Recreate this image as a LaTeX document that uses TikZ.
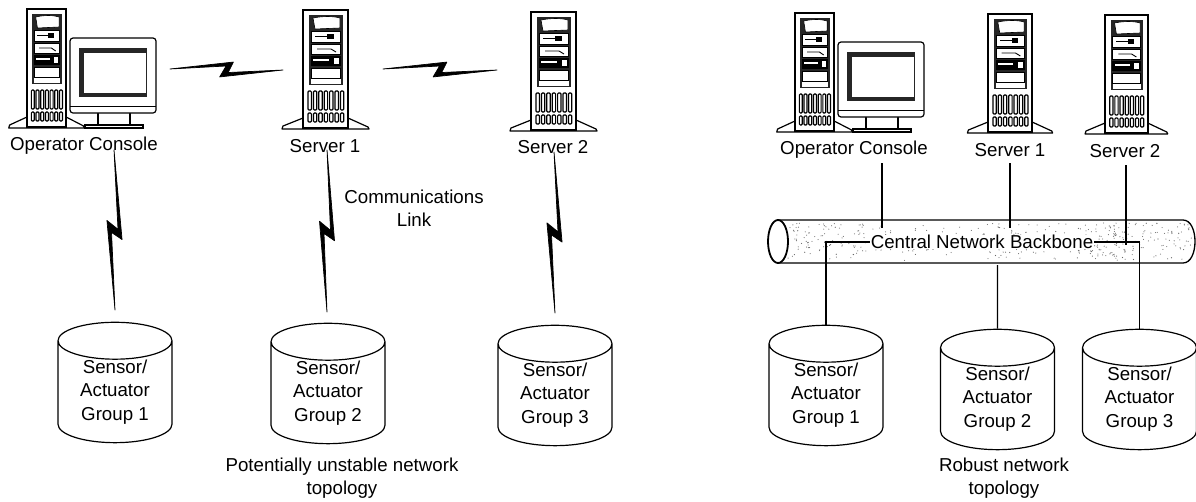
\documentclass[tikz,border=0pt]{standalone}
\usepackage{fontspec}
\setmainfont{Liberation Sans}
\usetikzlibrary{calc,shapes.geometric}
\tikzset{
  towerpc/.pic={
    \draw[line width=1.2pt,fill=white,line join=round] (0,108)--(-20,116)--(-21,119)--(66,119)--(65,117)--(45,108)--cycle;
    \draw[line width=1.5pt,fill=white] (0,0) rectangle (45,118);
    \fill[black!85] (6,5) rectangle (40,75);
    \fill[white] (8,69) rectangle (38,74);
    \draw[fill=white,line width=.6pt] (10,8) .. controls (20,6) and (30,6) .. (37,8) -- (37,18) -- (12,19) -- cycle;
    \draw[fill=white,line width=.6pt] (8,21) rectangle (37,32);
    \draw[line width=1pt] (12,26.5) -- (24,26.5);
    \fill (24,24) rectangle (31,29);
    \draw[fill=white,line width=.6pt] (8,34) rectangle (37,44);
    \draw[line width=.9pt] (14,39) -- (28,39) -- (33,42);
    \draw[fill=black,line width=.6pt] (8,46) rectangle (37,55);
    \fill[white] (10,49) rectangle (26,50.5);
    \draw[fill=white,line width=.6pt] (30,47) rectangle (36,54);
    \draw[fill=white,line width=.6pt] (8,58) rectangle (37,68);
    \foreach \k in {0,...,6}{
      \draw[line width=1.2pt,rounded corners=1pt] (5+\k*5.4,81) rectangle ++(3.4,19);
      \draw[line width=1.2pt,rounded corners=1pt] (5+\k*5.4,103) rectangle ++(3.4,9);
    }
  },
  crtbox/.pic={
    \draw[line width=1.2pt,fill=white] (15,87) rectangle (73,90);
    \draw[line width=1.2pt,fill=white] (28,72) rectangle (60,87);
    \draw[line width=1.2pt,fill=white,rounded corners=3pt] (0,0) rectangle (86,75);
    \draw (0,68) -- (86,68);
    \fill[black!85] (9,10) rectangle (77,59);
    \fill[white] (14,15) rectangle (75.5,55);
  }
}
\begin{document}
\begin{tikzpicture}[x=1pt,y=-1pt]
  \tikzstyle{lbl}=[align=center,inner sep=0,font=\fontsize{18.7}{23}\selectfont]
  \tikzstyle{grp}=[cylinder,shape border rotate=90,aspect=.53,draw,line width=1.2pt,
    minimum width=114pt,minimum height=116pt,inner sep=0,align=center,
    font=\fontsize{18.7}{23.5}\selectfont]
  \tikzstyle{wire}=[line width=1.2pt]
  \tikzstyle{bolt}=[fill=black,draw=black,line width=.7pt,line join=round,to path={
    -- ($(\tikztostart)!.56!(\tikztotarget)!7.5pt!90:(\tikztotarget)$)
    -- ($(\tikztostart)!.515!(\tikztotarget)!-3pt!90:(\tikztotarget)$)
    -- (\tikztotarget)
    -- ($(\tikztostart)!.44!(\tikztotarget)!-7.5pt!90:(\tikztotarget)$)
    -- ($(\tikztostart)!.496!(\tikztotarget)!3.5pt!90:(\tikztotarget)$)
    -- cycle}]
  \useasboundingbox (0,0) rectangle (1196,501);

  \pic[xscale=.87] at (27,9) {towerpc};
  \pic at (70,38) {crtbox};
  \pic at (303,10) {towerpc};
  \pic at (531,12) {towerpc};
  \node(lcon)[lbl] at (84,146) {Operator Console};
  \node(lsrv1)[lbl] at (325,146) {Server 1};
  \node(lsrv2)[lbl] at (553,147) {Server 2};
  \node(link)[lbl] at (414,208) {Communications\\Link};
  \node(lgrp1)[grp] at (115,392) {Sensor/\\Actuator\\Group 1};
  \node(lgrp2)[grp] at (328,393) {Sensor/\\Actuator\\Group 2};
  \node(lgrp3)[grp] at (555,395) {Sensor/\\Actuator\\Group 3};
  \node(lcap)[lbl] at (342,478) {Potentially unstable network\\topology};

  \coordinate (h1a) at (170,69);
  \coordinate (h1b) at (283,70);
  \coordinate (h2a) at (383,69);
  \coordinate (h2b) at (497,70);
  \coordinate (v1a) at (114,150);
  \coordinate (v1b) at (115,310);
  \coordinate (v2a) at (327,150);
  \coordinate (v2b) at (327,312);
  \coordinate (v3a) at (554,152);
  \coordinate (v3b) at (555,313);
  \draw[bolt] (h1a) to (h1b);
  \draw[bolt] (h2a) to (h2b);
  \draw[bolt] (v1a) to (v1b);
  \draw[bolt] (v2a) to (v2b);
  \draw[bolt] (v3a) to (v3b);

  \pic[xscale=.87] at (795,13) {towerpc};
  \pic at (838,42) {crtbox};
  \pic[xscale=.98] at (988,14) {towerpc};
  \pic[xscale=.95] at (1105,15) {towerpc};
  \node(rcon)[lbl] at (854,150) {Operator Console};
  \node(rsrv1)[lbl] at (1010,150) {Server 1};
  \node(rsrv2)[lbl] at (1125,151) {Server 2};

  \draw[line width=1.3pt,fill=white] (778,220) -- (1183,220)
    .. controls (1199,220) and (1199,263) .. (1183,263) -- (778,263);
  \pgfmathsetseed{11}
  \foreach \n in {1,...,170}{
    \pgfmathsetmacro\dotx{792+400*rnd}
    \pgfmathsetmacro\doty{223+38*rnd}
    \fill[black!60] (\dotx,\doty) circle (.55pt);
  }
  \foreach \cx in {805,845,1005,1095,1112,1135,1170}{
    \foreach \n in {1,...,35}{
      \pgfmathsetmacro\dotx{\cx+22*rand}
      \pgfmathsetmacro\doty{241+18*rand}
      \fill[black!60] (\dotx,\doty) circle (.55pt);
    }
  }
  \draw[line width=1.8pt,fill=white] (778,241.5) ellipse (10 and 21.5);
  \node(back)[lbl,fill=white,inner xsep=1pt] at (982,242) {Central Network Backbone};
  \node(rgrp1)[grp] at (826,395) {Sensor/\\Actuator\\Group 1};
  \node(rgrp2)[grp] at (997.5,399) {Sensor/\\Actuator\\Group 2};
  \node(rgrp3)[grp] at (1139.5,399) {Sensor/\\Actuator\\Group 3};
  \node(rcap)[lbl] at (1004,478) {Robust network\\topology};

  \coordinate (j1) at (882,163);
  \coordinate (j2) at (882,228);
  \coordinate (j3) at (1010,163);
  \coordinate (j4) at (1010,228);
  \coordinate (j5) at (1126,165);
  \coordinate (j6) at (1126,245);
  \coordinate (j7) at (997.5,265);
  \draw[wire] (j1) -- (j2);
  \draw[wire] (j3) -- (j4);
  \draw[wire] (j5) -- (j6);
  \draw[wire] (j7) -- (rgrp2.north);
  \draw[wire] (back.west) -| (rgrp1.north);
  \draw[wire] (back.east) -| (rgrp3.north);
\end{tikzpicture}
\end{document}
